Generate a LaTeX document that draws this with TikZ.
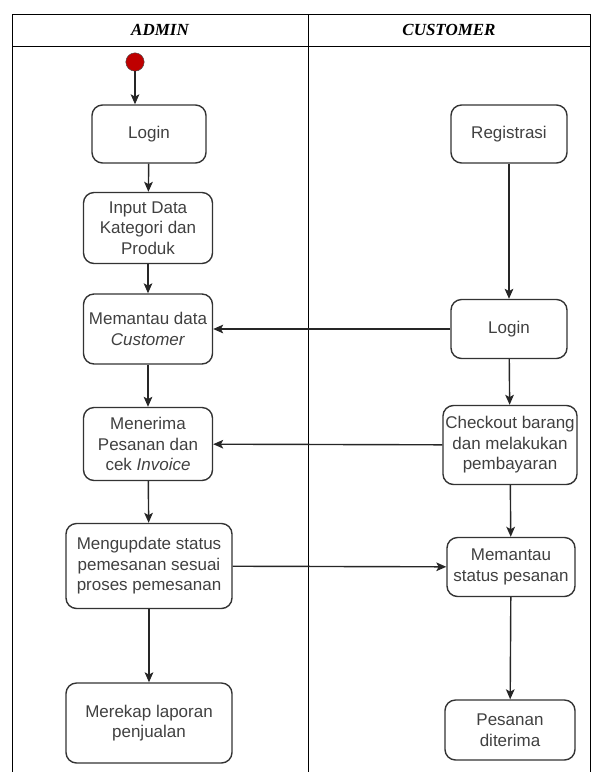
\documentclass[tikz,border=0pt]{standalone}
\usepackage{fontspec}
\setmainfont{Liberation Sans}
\newfontfamily\headfont{Liberation Serif}
\usetikzlibrary{arrows.meta,positioning}

\begin{document}
\begin{tikzpicture}[
  x=0.03cm, y=-0.03cm,
  act/.style={rectangle, rounded corners=9pt, draw=black!80, line width=1.2pt, align=center,
    font=\fontsize{14.5}{17.5}\selectfont, text=black!75, inner sep=2pt},
  flow/.style={-{Stealth[length=3mm, width=2.6mm, inset=0.7mm]}, line width=1.2pt, draw=black!85},
  lane/.style={line width=0.8pt},
  head/.style={font=\headfont\fontsize{14.5}{17}\selectfont\bfseries\itshape}
]
\useasboundingbox (0,0) rectangle (593,772);

% swimlanes
\draw[lane] (12,772) -- (12,14) -- (590,14) -- (590,772);
\draw[lane] (12,46) -- (590,46);
\draw[lane] (308,14) -- (308,772);
\node[head] (hadmin) at (160,30) {ADMIN};
\node[head] (hcust) at (449,30) {CUSTOMER};

% admin
\node[circle, draw=black!70, fill=red!75!black, minimum size=0.55cm, inner sep=0pt] (start) at (135,62) {};
\node[act, minimum width=3.42cm, minimum height=1.74cm] (loginA) at (149,134) {Login};
\node[act, minimum width=3.87cm, minimum height=2.13cm] (input) at (148,228) {Input Data\\Kategori dan\\Produk};
\node[act, minimum width=3.87cm, minimum height=2.1cm] (pantau) at (148,329) {Memantau data\\\textit{Customer}};
\node[act, minimum width=3.87cm, minimum height=2.19cm] (terima) at (148,444) {Menerima\\Pesanan dan\\cek \textit{Invoice}};
\node[act, minimum width=4.98cm, minimum height=2.55cm] (update) at (149,566) {Mengupdate status\\pemesanan sesuai\\proses pemesanan};
\node[act, minimum width=4.98cm, minimum height=2.4cm] (rekap) at (149,723) {Merekap laporan\\penjualan};

% customer
\node[act, minimum width=3.48cm, minimum height=1.74cm] (regis) at (509,134) {Registrasi};
\node[act, minimum width=3.48cm, minimum height=1.77cm] (loginC) at (509,329) {Login};
\node[act, minimum width=4.02cm, minimum height=2.37cm] (checkout) at (510,445) {Checkout barang\\dan melakukan\\pembayaran};
\node[act, minimum width=3.84cm, minimum height=1.77cm] (status) at (511,567) {Memantau\\status pesanan};
\node[act, minimum width=3.9cm, minimum height=1.8cm] (diterima) at (510,730) {Pesanan\\diterima};

\draw[flow] (start) -- (start |- loginA.north);
\draw[flow] (loginA) -- (input);
\draw[flow] (input) -- (pantau);
\draw[flow] (pantau) -- (terima);
\draw[flow] (terima) -- (update);
\draw[flow] (update) -- (rekap);

\draw[flow] (regis) -- (loginC);
\draw[flow] (loginC) -- (checkout);
\draw[flow] (checkout) -- (status);
\draw[flow] (status) -- (diterima);

\draw[flow] (loginC) -- (pantau);
\draw[flow] (checkout) -- (terima);
\draw[flow] (update) -- (status);

\end{tikzpicture}
\end{document}
